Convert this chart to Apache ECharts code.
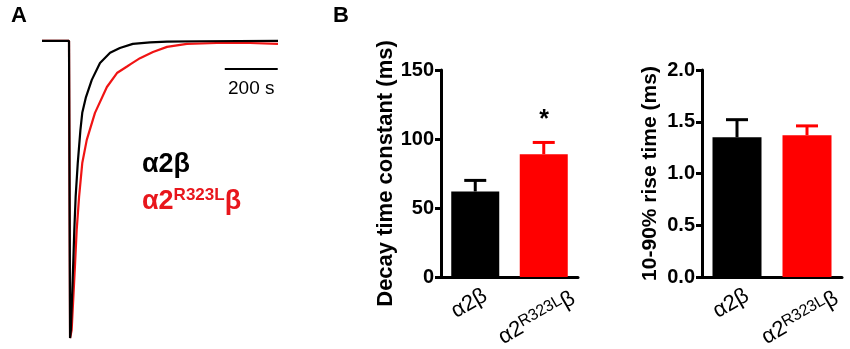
<!DOCTYPE html>
<html>
<head>
<meta charset="utf-8">
<script src="https://cdn.jsdelivr.net/npm/echarts@6/dist/echarts.min.js"></script>
<style>
  html, body { margin: 0; background: #fff; }
  #main { width: 850px; height: 349px; }
</style>
</head>
<body>
<div id="main"></div>
<script>
  // panel A: current traces (time in s, current normalised to peak)
  var blackT = [0, 102, 106, 109, 118, 122, 127, 135, 145, 152, 166, 188, 219, 257, 294, 343, 408, 472, 596, 891];
  var blackI = [0, 0, -1.0, -0.973, -0.747, -0.636, -0.525, -0.411, -0.300, -0.242, -0.189, -0.131, -0.074, -0.040, -0.024, -0.010, -0.005, -0.002, -0.001, 0];
  var redT = [0, 102, 106, 112, 125, 131, 140, 152, 169, 200, 245, 283, 321, 336, 370, 419, 472, 547, 660, 785, 891];
  var redI = [0, 0, -1.0, -0.973, -0.747, -0.636, -0.525, -0.411, -0.333, -0.242, -0.155, -0.108, -0.086, -0.077, -0.058, -0.037, -0.020, -0.010, -0.007, -0.007, -0.010];

  // panel B: bar charts
  var categories = ['α2β', 'α2R323Lβ'];
  var barColors = ['#000000', '#ff0000'];
  var decayMean = [62, 89];
  var decaySem = [8, 8.5];
  var riseMean = [1.35, 1.37];
  var riseSem = [0.17, 0.09];

  var font = 'Liberation Sans, Arial, sans-serif';

  function pairs(t, v) {
    return t.map(function (x, i) { return [x, v[i]]; });
  }

  function barData(means) {
    return means.map(function (m, i) {
      return { value: m, itemStyle: { color: barColors[i] } };
    });
  }

  function errData(means, sems) {
    return means.map(function (m, i) {
      return { value: [i, m, sems[i]], itemStyle: { color: barColors[i] } };
    });
  }

  function renderErr (params, api) {
    var p0 = api.coord([api.value(0), api.value(1)]);
    var p1 = api.coord([api.value(0), api.value(1) + api.value(2)]);
    var c = api.visual('color');
    return {
      type: 'group',
      children: [
        { type: 'line', shape: { x1: p0[0], y1: p0[1], x2: p1[0], y2: p1[1] }, style: { stroke: c, lineWidth: 3 } },
        { type: 'line', shape: { x1: p1[0] - 11, y1: p1[1], x2: p1[0] + 11, y2: p1[1] }, style: { stroke: c, lineWidth: 3 } }
      ]
    };
  }

  var richLabel = {
    a: { fontFamily: font, fontSize: 22, color: '#000', lineHeight: 24 },
    s: { fontFamily: font, fontSize: 16, color: '#000', lineHeight: 16, verticalAlign: 'top' },
    g: { width: 16, lineHeight: 24 }
  };

  function catLabel (v) {
    if (v === 'α2R323Lβ') return '{a|α2}{s|R323L}{a|β}{g|}';
    return '{a|' + v + '}';
  }

  // the short label sits a bit closer to the axis
  var catItems = [
    { value: categories[0], textStyle: { align: 'center', verticalAlign: 'bottom' } },
    { value: categories[1], textStyle: { align: 'center', verticalAlign: 'middle' } }
  ];

  function barX (idx) {
    return {
      type: 'category', gridIndex: idx, data: catItems,
      axisLine: { lineStyle: { color: '#000', width: 3 } },
      axisTick: { show: false },
      axisLabel: { rotate: 30, align: 'center', verticalAlign: 'middle', margin: 37, formatter: catLabel, rich: richLabel }
    };
  }

  function barY (idx, max, step, name, gap, nameSize, digits) {
    return {
      type: 'value', gridIndex: idx, min: 0, max: max, interval: step,
      name: name, nameLocation: 'middle', nameGap: gap,
      nameTextStyle: { fontFamily: font, fontSize: nameSize, fontWeight: 'bold', color: '#000' },
      splitLine: { show: false },
      axisLine: { show: true, lineStyle: { color: '#000', width: 3 } },
      axisTick: { show: true, length: 6, lineStyle: { color: '#000', width: 3 } },
      axisLabel: {
        fontFamily: font, fontSize: 20, fontWeight: 'bold', color: '#000', margin: 7,
        formatter: function (v) { return v.toFixed(digits); }
      }
    };
  }

  var chart = echarts.init(document.getElementById('main'));
  chart.setOption({
    animation: false,
    backgroundColor: '#fff',
    grid: [
      { left: 42, top: 35, width: 236, height: 309, outerBoundsMode: 'none' },
      { left: 441, top: 70, width: 137, height: 207, outerBoundsMode: 'none' },
      { left: 702, top: 70, width: 140, height: 207, outerBoundsMode: 'none' }
    ],
    xAxis: [
      { type: 'value', gridIndex: 0, min: 0, max: 891, show: false },
      barX(1),
      barX(2)
    ],
    yAxis: [
      { type: 'value', gridIndex: 0, min: -1.02, max: 0.02, show: false },
      barY(1, 150, 50, 'Decay time constant (ms)', 44, 22, 0),
      barY(2, 2, 0.5, '10-90% rise time (ms)', 41, 21, 1)
    ],
    series: [
      {
        type: 'line', xAxisIndex: 0, yAxisIndex: 0, data: pairs(redT, redI),
        showSymbol: false, smooth: false,
        lineStyle: { color: '#f01414', width: 2.2 }
      },
      {
        type: 'line', xAxisIndex: 0, yAxisIndex: 0, data: pairs(blackT, blackI),
        showSymbol: false, smooth: false,
        lineStyle: { color: '#000', width: 2.2 },
        markLine: {
          silent: true, symbol: 'none',
          lineStyle: { color: '#000', width: 2, type: 'solid' },
          label: { show: true, position: 'insideMiddleBottom', formatter: '200 s', distance: 10,
                   fontFamily: font, fontSize: 19, color: '#000' },
          data: [[{ coord: [690, -0.094] }, { coord: [890, -0.094] }]]
        }
      },
      { type: 'bar', xAxisIndex: 1, yAxisIndex: 1, data: barData(decayMean), barWidth: 48 },
      { type: 'custom', xAxisIndex: 1, yAxisIndex: 1, data: errData(decayMean, decaySem), renderItem: renderErr, z: 1 },
      { type: 'bar', xAxisIndex: 2, yAxisIndex: 2, data: barData(riseMean), barWidth: 49 },
      { type: 'custom', xAxisIndex: 2, yAxisIndex: 2, data: errData(riseMean, riseSem), renderItem: renderErr, z: 1 }
    ],
    graphic: [
      { type: 'text', left: 11, top: 5, style: { text: 'A', font: 'bold 22px ' + font, fill: '#000' } },
      { type: 'text', left: 333, top: 5, style: { text: 'B', font: 'bold 22px ' + font, fill: '#000' } },
      { type: 'text', left: 142, top: 151, style: { text: 'α2β', font: 'bold 27px ' + font, fill: '#000' } },
      {
        type: 'text', left: 142, top: 187,
        style: {
          text: '{a|α2}{s|R323L}{a|β}', fill: '#e8161c',
          rich: {
            a: { font: 'bold 27px ' + font, fill: '#e8161c', lineHeight: 29 },
            s: { font: 'bold 17px ' + font, fill: '#e8161c', lineHeight: 17, verticalAlign: 'top' }
          }
        }
      },
      { type: 'text', x: 544, y: 120, style: { text: '*', font: 'bold 25px ' + font, fill: '#000', align: 'center', verticalAlign: 'middle' } }
    ]
  });
</script>
</body>
</html>
